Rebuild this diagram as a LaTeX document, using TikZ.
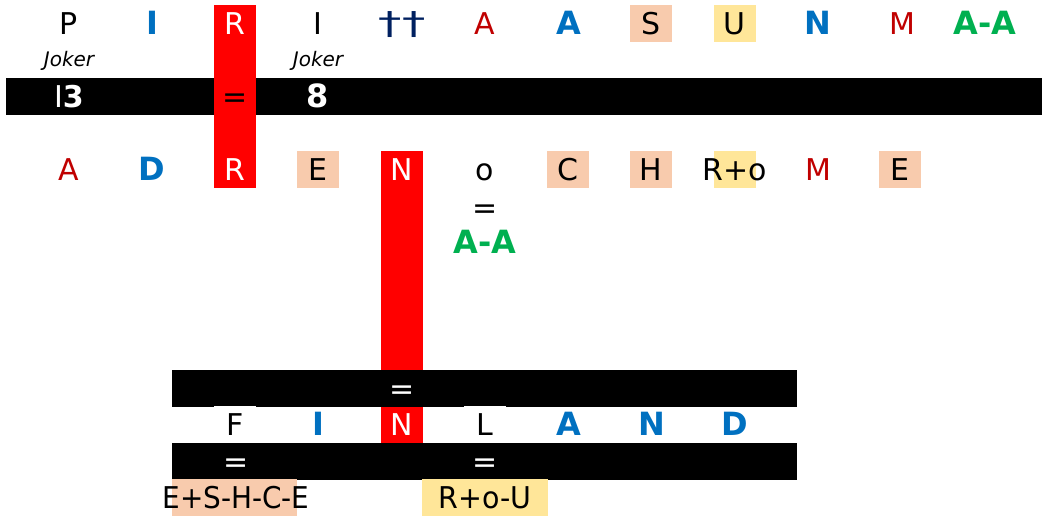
\documentclass[tikz,border=0pt]{standalone}
\usepackage{fontspec}
\setmainfont{DejaVu Sans}
\definecolor{peach}{HTML}{F8CBAD}
\definecolor{butter}{HTML}{FFE699}
\definecolor{blau}{HTML}{0070C0}
\definecolor{dunkelrot}{HTML}{C00000}
\definecolor{gruen}{HTML}{00B050}
\definecolor{navy}{HTML}{002060}
\tikzset{
  letter/.style={inner sep=0pt, minimum width=21pt, minimum height=18.5pt,
    text height=11pt, text depth=0pt, font=\fontsize{15}{18}\selectfont},
  fat/.style={letter, font=\fontsize{16}{19}\selectfont\bfseries},
  joker/.style={inner sep=0pt, font=\fontsize{10}{12}\selectfont\itshape}
}
\begin{document}
\begin{tikzpicture}[x=0.5pt,y=-0.5pt]
  \useasboundingbox (0,0) rectangle (1044,517);
  % bars and columns
  \fill (6,78) rectangle (1042,115);
  \fill[red] (214,5) rectangle (256,188);
  \fill[red] (381,151) rectangle (423,443);
  \fill (172,370) rectangle (797,407);
  \fill (172,443) rectangle (797,480);
  % top row
  \node[letter] (t1) at (69,23.5) {P};
  \node[fat, text=blau] (t2) at (152,23.5) {I};
  \node[letter, text=white] (t3) at (235,23.5) {R};
  \node[letter] (t4) at (318,23.5) {I};
  \node[letter, text=navy] (t5) at (402,23.5) {\scalebox{1.55}[1.05]{††}};
  \node[letter, text=dunkelrot] (t6) at (485,23.5) {A};
  \node[fat, text=blau] (t7) at (569,23.5) {A};
  \node[letter, fill=peach] (t8) at (651,23.5) {S};
  \node[letter, fill=butter] (t9) at (734.5,23.5) {U};
  \node[fat, text=blau] (t10) at (818,23.5) {N};
  \node[letter, text=dunkelrot] (t11) at (902,23.5) {M};
  \node[fat, text=gruen] (t12) at (985,23.5) {A-A};
  \node[joker] (j1) at (69,61) {Joker};
  \node[joker] (j2) at (318,61) {Joker};
  % first bar
  \node[letter, text=white] (b1) at (69,96.5) {I\textbf{3}};
  \node[letter] (b2) at (235,96.5) {=};
  \node[fat, text=white] (b3) at (318,96.5) {8};
  % second row
  \node[letter, text=dunkelrot] (m1) at (69,169.5) {A};
  \node[fat, text=blau] (m2) at (152,169.5) {D};
  \node[letter, text=white] (m3) at (235,169.5) {R};
  \node[letter, fill=peach] (m4) at (318,169.5) {E};
  \node[letter, text=white] (m5) at (402,169.5) {N};
  \node[letter] (m6) at (485,169.5) {o};
  \node[letter, fill=peach] (m7) at (568,169.5) {C};
  \node[letter, fill=peach] (m8) at (651,169.5) {H};
  \node[letter, fill=butter] (m9) at (734.5,169.5) {};
  \node[letter] (m9t) at (m9) {R+o};
  \node[letter, text=dunkelrot] (m10) at (818,169.5) {M};
  \node[letter, fill=peach] (m11) at (900,169.5) {E};
  \node[letter] (e1) at (485,208) {=};
  \node[fat, text=gruen] (aa) at (485,243) {A-A};
  % finland
  \node[letter, text=white] (e2) at (402,388.5) {=};
  \node[letter, fill=white] (f1) at (235,425) {F};
  \node[fat, text=blau] (f2) at (318,425) {I};
  \node[letter, text=white] (f3) at (402,425) {N};
  \node[letter, fill=white] (f4) at (485,425) {L};
  \node[fat, text=blau] (f5) at (569,425) {A};
  \node[fat, text=blau] (f6) at (652,425) {N};
  \node[fat, text=blau] (f7) at (735,425) {D};
  \node[letter, text=white] (e3) at (236,461.5) {=};
  \node[letter, text=white] (e4) at (485,461.5) {=};
  \node[letter, minimum width=62.5pt, fill=peach] (s1) at (234.5,498) {};
  \node[letter] (s1t) at (236,498) {\scalebox{0.93}[1]{E+S-H-C-E}};
  \node[letter, minimum width=63pt, fill=butter] (s2) at (485,498) {\scalebox{0.95}[1]{R+o-U}};
\end{tikzpicture}
\end{document}
